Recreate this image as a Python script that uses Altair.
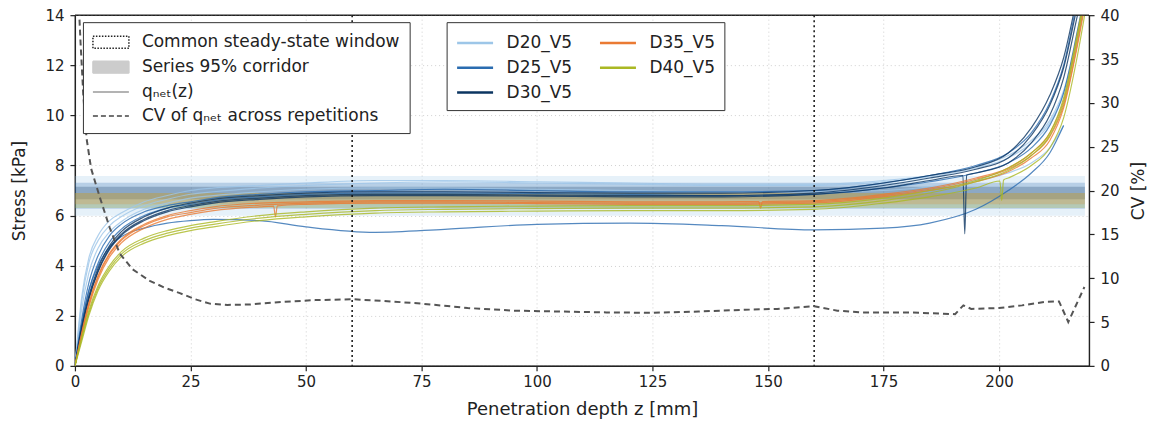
import altair as alt
import pandas as pd

# ---------------- data ----------------
Z = [0, 1.5, 3, 5, 7.5, 10, 15, 20, 25, 30, 40, 50, 65, 80, 100, 120, 140, 160,
     175, 185, 195, 202, 207, 211, 214, 217, 219]

SERIES = ["D20_V5", "D25_V5", "D30_V5", "D35_V5", "D40_V5"]
COLORS = ["#9dc6e8", "#2a6cb0", "#0b3561", "#ea7a33", "#aab823"]

D20_A = [0, 2.6, 4.1, 5.0, 5.6, 5.95, 6.4, 6.65, 6.85, 6.95, 7.1, 7.2, 7.3, 7.35, 7.3, 7.25, 7.2, 7.2, 7.35, 7.55, 7.9, 8.3, 8.9, 9.7, 10.9, 13.0, 15.0]
D20_B = [0, 2.3, 3.7, 4.7, 5.35, 5.75, 6.25, 6.5, 6.7, 6.8, 6.95, 7.05, 7.1, 7.1, 7.05, 7.0, 6.95, 6.95, 7.0, 7.15, 7.4, 7.7, 8.1, 8.7, 9.6, None, None]
D20_C = [0, 2.8, 4.3, 5.2, 5.8, 6.1, 6.55, 6.8, 7.0, 7.1, 7.2, 7.3, 7.4, 7.4, 7.35, 7.3, 7.25, 7.25, 7.4, 7.6, 7.95, 8.4, 9.0, 9.8, 11.0, 13.2, 15.2]

D25_A = [0, 1.9, 3.3, 4.4, 5.2, 5.65, 6.15, 6.4, 6.55, 6.7, 6.85, 6.95, 7.0, 7.05, 7.0, 6.95, 6.95, 7.0, 7.3, 7.6, 8.0, 8.5, 9.3, 10.5, 12.0, 14.6, 16.2]
D25_B = [0, 1.7, 3.0, 4.1, 4.95, 5.45, 6.0, 6.3, 6.45, 6.6, 6.75, 6.85, 6.9, 6.9, 6.88, 6.85, 6.8, 6.85, 7.1, 7.35, 7.7, 8.1, 8.7, 9.6, 10.9, 13.4, 15.2]
D25_C = [0, 1.7, 3.0, 4.0, 4.75, 5.15, 5.5, 5.7, 5.8, 5.85, 5.8, 5.55, 5.33, 5.45, 5.65, 5.7, 5.6, 5.43, 5.5, 5.7, 6.25, 7.0, 7.7, 8.5, 9.6, None, None]

D30_A = [0, 1.6, 2.8, 3.9, 4.8, 5.35, 5.95, 6.3, 6.5, 6.65, 6.8, 6.9, 6.95, 6.95, 6.92, 6.9, 6.9, 7.0, 7.3, 7.6, 7.95, 8.5, 9.5, 10.8, 12.3, 14.8, 16.5]
D30_B = [0, 1.5, 2.7, 3.8, 4.7, 5.25, 5.85, 6.2, 6.4, 6.55, 6.7, 6.8, 6.85, 6.85, 6.82, 6.8, 6.8, 6.9, 7.2, 7.5, 7.85, 8.3, 9.2, 10.4, 11.9, 14.4, 16.0]
D30_C = [0, 1.45, 2.65, 3.75, 4.65, 5.2, 5.8, 6.15, 6.35, 6.5, 6.65, 6.75, 6.8, 6.8, 6.78, 6.75, 6.75, 6.85, 7.1, 7.4, 7.7, 8.1, 8.9, 10.0, 11.5, 14.0, 15.6]

D35_A = [0, 1.35, 2.5, 3.6, 4.5, 5.05, 5.65, 6.0, 6.2, 6.35, 6.5, 6.55, 6.6, 6.6, 6.58, 6.55, 6.55, 6.6, 6.85, 7.1, 7.5, 7.9, 8.5, 9.3, 10.6, 13.2, 15.2]
D35_B = [0, 1.25, 2.35, 3.45, 4.35, 4.9, 5.5, 5.85, 6.05, 6.2, 6.35, 6.45, 6.5, 6.5, 6.48, 6.45, 6.45, 6.5, 6.75, 7.0, 7.35, 7.75, 8.3, 9.0, 10.3, 12.8, 14.8]
D35_C = [0, 1.3, 2.45, 3.55, 4.45, 5.0, 5.6, 5.95, 6.12, 6.28, 6.42, 6.5, 6.55, 6.55, 6.52, 6.5, 6.5, 6.55, 6.8, 7.05, 7.45, 7.85, 8.4, 9.15, 10.4, 12.9, 15.0]

D40_A = [0, 1.1, 2.1, 3.1, 3.9, 4.45, 5.0, 5.3, 5.5, 5.65, 5.9, 6.05, 6.2, 6.25, 6.28, 6.3, 6.3, 6.35, 6.6, 6.9, 7.35, 7.8, 8.4, 9.2, 10.5, 13.1, 15.1]
D40_B = [0, 1.0, 2.0, 3.0, 3.8, 4.35, 4.9, 5.2, 5.4, 5.55, 5.8, 5.95, 6.1, 6.15, 6.18, 6.2, 6.2, 6.25, 6.5, 6.75, 7.1, 7.5, 8.0, 8.7, 9.9, 12.4, 14.5]
D40_C = [0, 1.15, 2.2, 3.2, 4.0, 4.55, 5.1, 5.4, 5.6, 5.75, 6.0, 6.15, 6.3, 6.35, 6.38, 6.4, 6.4, 6.45, 6.7, 7.0, 7.4, 7.9, 8.5, 9.3, 10.7, 13.3, 15.3]

REPS = {
    "D20_V5": [D20_A, D20_B, D20_C],
    "D25_V5": [D25_A, D25_B, D25_C],
    "D30_V5": [D30_A, D30_B, D30_C],
    "D35_V5": [D35_A, D35_B, D35_C],
    "D40_V5": [D40_A, D40_B, D40_C],
}

# short glitches in single repetitions: (series, repetition, z, q)
SPIKES = [
    ("D30_V5", 2, [192.2, 192.6, 193.0], [7.6, 5.27, 7.62]),
    ("D40_V5", 1, [200.2, 200.6, 201.0], [7.38, 6.6, 7.42]),
    ("D35_V5", 1, [43.0, 43.4, 43.8], [6.38, 5.95, 6.39]),
    ("D35_V5", 0, [148.0, 148.4, 148.8], [6.56, 6.3, 6.56]),
]

# 95% corridors of each series (kPa)
BAND_LO = [5.99, 6.27, 6.65, 6.45, 6.30]
BAND_HI = [7.58, 7.31, 7.15, 6.90, 6.90]
BAND_Z = [0, 218.6]

# coefficient of variation across repetitions (%)
CV_Z = [0, 0.6, 1.2, 1.8, 2.5, 3.5, 5.4, 7.5, 9.7, 12.5, 16.2, 19.5, 22.7, 26, 29.2, 33, 37.8,
        45, 52, 60, 67, 75, 85, 95, 105, 115, 125, 135, 145, 152, 160, 165, 170, 180,
        190.5, 192.3, 194, 200, 205, 210, 213, 215, 218.5]
CV = [60, 44, 37, 31, 26, 22.5, 19.2, 15.8, 12.8, 11.0, 9.7, 8.9, 8.3, 7.6, 7.1, 6.95, 7.0,
      7.3, 7.5, 7.6, 7.4, 7.1, 6.6, 6.3, 6.2, 6.1, 6.05, 6.2, 6.4, 6.5, 6.8, 6.3, 6.1, 6.1,
      5.9, 6.9, 6.5, 6.6, 6.9, 7.3, 7.35, 5.0, 9.0]

WINDOW = [60, 160]
Y_TOP = [14]

KEYS = ["Common steady-state window", "Series 95% corridor", "qₙₑₜ(z)",
        "CV of qₙₑₜ across repetitions"]

# ---------------- tables ----------------
rows = []
for s in SERIES:
    for r, vals in enumerate(REPS[s]):
        for z, q in zip(Z, vals):
            if q is not None:
                rows.append({"series": s, "line": f"{s}_{r}", "z": z, "q": q})
for s, r, zs, qs in SPIKES:
    for z, q in zip(zs, qs):
        rows.append({"series": s, "line": f"{s}_{r}", "z": z, "q": q})
line_df = pd.DataFrame(rows)

band_df = pd.DataFrame({"series": SERIES, "col": COLORS, "lo": BAND_LO, "hi": BAND_HI,
                        "z0": BAND_Z[0], "z1": BAND_Z[1]})
cv_df = pd.DataFrame({"z": CV_Z, "cv": CV})
win_df = pd.DataFrame({"z": WINDOW})
top_df = pd.DataFrame({"y": Y_TOP})
key_df = pd.DataFrame({"key": KEYS})

# ---------------- chart ----------------
W, H = 1015, 351
FONT = "DejaVu Sans"
TXT = "#222222"
DARK = "#222222"

x_scale = alt.Scale(domain=[0, 219.5], nice=False, zero=False)
y_scale = alt.Scale(domain=[0, 14], nice=False)
cv_scale = alt.Scale(domain=[0, 40], nice=False)

x_axis = alt.Axis(title="Penetration depth z [mm]", values=[0, 25, 50, 75, 100, 125, 150, 175, 200],
                  grid=True, gridDash=[1, 3], gridColor="#d0d0d0", labelFlush=False,
                  labelPadding=4, titlePadding=11, titleFontSize=18)
y_axis = alt.Axis(title="Stress [kPa]", values=[0, 2, 4, 6, 8, 10, 12, 14], grid=True,
                  gridDash=[1, 3], gridColor="#d0d0d0", labelPadding=6, titlePadding=16)
cv_axis = alt.Axis(title="CV [%]", orient="right", values=[0, 5, 10, 15, 20, 25, 30, 35, 40],
                   grid=False, titleAngle=270, titleBaseline="top", labelPadding=6,
                   titlePadding=11)

bands = alt.Chart(band_df).mark_rect(fillOpacity=0.25, clip=True).encode(
    x=alt.X("z0:Q", scale=x_scale, axis=x_axis),
    x2="z1:Q",
    y=alt.Y("lo:Q", scale=y_scale, axis=y_axis),
    y2="hi:Q",
    fill=alt.Fill("col:N", scale=None),
)

color_legend = alt.Legend(
    title=None, orient="none", legendX=372, legendY=7, columns=2,
    symbolType="M-1,0H2.6", symbolSize=400, symbolStrokeWidth=2.5, labelOffset=28,
    strokeColor="#333333", fillColor="white", padding=9, columnPadding=22, rowPadding=5,
    labelFontSize=17, labelLimit=0, symbolOpacity=1,
)

lines = alt.Chart(line_df).mark_line(strokeWidth=1.2, strokeOpacity=0.8, clip=True,
                                     interpolate="monotone").encode(
    x=alt.X("z:Q", scale=x_scale, axis=x_axis),
    y=alt.Y("q:Q", scale=y_scale, axis=y_axis),
    color=alt.Color("series:N", scale=alt.Scale(domain=SERIES, range=COLORS),
                    legend=color_legend),
    detail="line:N",
)

rules = alt.Chart(win_df).mark_rule(strokeDash=[2, 3], strokeWidth=1.5, color="#111111").encode(
    x=alt.X("z:Q", scale=x_scale, axis=x_axis),
)

top_frame = alt.Chart(top_df).mark_rule(strokeWidth=1.2, color=DARK).encode(
    y=alt.Y("y:Q", scale=y_scale, axis=y_axis),
)

cv_line = alt.Chart(cv_df).mark_line(strokeDash=[6, 4], strokeWidth=2, color="#555555",
                                     clip=True).encode(
    x=alt.X("z:Q", scale=x_scale, axis=x_axis),
    y=alt.Y("cv:Q", scale=cv_scale, axis=cv_axis),
)

key_legend = alt.Legend(
    title=None, orient="none", legendX=8, legendY=7, symbolSize=400, labelOffset=28,
    strokeColor="#333333", fillColor="white", padding=9, rowPadding=5, labelFontSize=17,
    labelLimit=0, symbolOpacity=1,
)
SHAPE_BOX = "M-1,-0.6H2.6V0.6H-1Z"
SHAPE_LINE = "M-1,0H2.6"
key = alt.Chart(key_df).mark_point(clip=True, filled=False, strokeWidth=1.5).encode(
    x=alt.value(-100), y=alt.value(-100),
    shape=alt.Shape("key:N", scale=alt.Scale(domain=KEYS, range=[SHAPE_BOX, SHAPE_BOX, SHAPE_LINE, SHAPE_LINE]),
                    legend=key_legend),
    strokeDash=alt.StrokeDash("key:N", scale=alt.Scale(domain=KEYS, range=[[1.5, 1.5], [1, 0], [1, 0], [5, 3]]),
                              legend=key_legend),
    fill=alt.Fill("key:N", scale=alt.Scale(domain=KEYS, range=["transparent", "#cccccc", "transparent", "transparent"]),
                  legend=key_legend),
    stroke=alt.Stroke("key:N", scale=alt.Scale(domain=KEYS, range=["#222222", "#cccccc", "#9a9a9a", "#444444"]),
                      legend=key_legend),
)

inner = alt.layer(bands, lines, rules, top_frame)
chart = alt.layer(inner, cv_line, key).resolve_scale(y="independent").properties(
    width=W, height=H,
    autosize=alt.AutoSizeParams(type="none"),
    padding={"left": 67, "top": 7, "right": 62, "bottom": 58},
).configure(font=FONT).configure_view(
    stroke=DARK, strokeWidth=1.2
).configure_axis(
    labelFont=FONT, titleFont=FONT, labelFontSize=15, titleFontSize=17, titleFontWeight="normal",
    labelColor=TXT, titleColor=TXT, domainColor=DARK, tickColor=DARK,
    domainWidth=1.2, tickWidth=1.2, tickSize=5,
).configure_legend(
    labelFont=FONT, labelColor=TXT,
)

chart.save("out.html", embed_options={"renderer": "svg", "actions": False})
